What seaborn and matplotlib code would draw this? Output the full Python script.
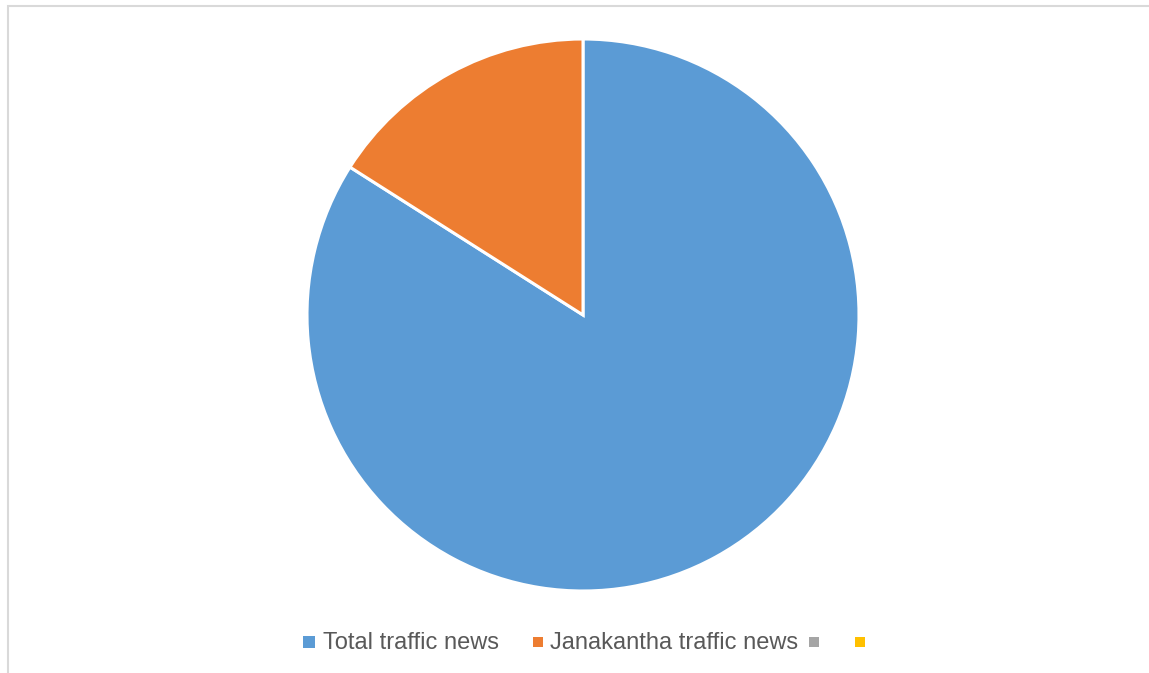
import matplotlib
matplotlib.use("Agg")
import matplotlib.pyplot as plt
from matplotlib.patches import Rectangle
import seaborn as sns

# Share of traffic news items
categories = ["Total traffic news", "Janakantha traffic news", "", ""]
values = [84, 16, 0, 0]
colors = ["#5B9BD5", "#ED7D31", "#A5A5A5", "#FFC000"]

sns.set_theme(style="white")
plt.rcParams["font.family"] = ["Liberation Sans", "DejaVu Sans"]

W, H = 1149, 673
fig = plt.figure(figsize=(W / 100, H / 100), dpi=100)
fig.patch.set_facecolor("white")

# Chart-area frame (runs off the right and bottom edges)
fig.add_artist(Rectangle((7.5 / W, -0.5), 1.5, 1.5 - 5.5 / H, transform=fig.transFigure,
                         fill=False, edgecolor="#D9D9D9", linewidth=1.5))

cx, cy, r = 583, 315, 276
ax = fig.add_axes([(cx - r) / W, 1 - (cy + r) / H, 2 * r / W, 2 * r / H])

shown = [(v, c) for v, c in zip(values, colors) if v > 0]
ax.pie([v for v, _ in shown], colors=[c for _, c in shown], startangle=90,
       counterclock=False, radius=1,
       wedgeprops=dict(edgecolor="white", linewidth=2.2))
ax.set_xlim(-1, 1)
ax.set_ylim(-1, 1)
ax.set_aspect("equal")
ax.axis("off")

# Legend row: square key followed by its label
key_left = [303, 533, 809, 855]
key_size = [12, 10, 10, 10]
text_left = [323, 550, None, None]
legend_y = 642
for cat, col, kx, ks, tx in zip(categories, colors, key_left, key_size, text_left):
    fig.add_artist(Rectangle((kx / W, 1 - (legend_y + ks / 2) / H), ks / W, ks / H,
                             transform=fig.transFigure, facecolor=col,
                             edgecolor="none"))
    if tx is not None and cat:
        fig.text(tx / W, 1 - (legend_y + 1) / H, cat, ha="left", va="center",
                 fontsize=17, color="#595959")

fig.savefig("out.png", dpi=100, facecolor="white")
